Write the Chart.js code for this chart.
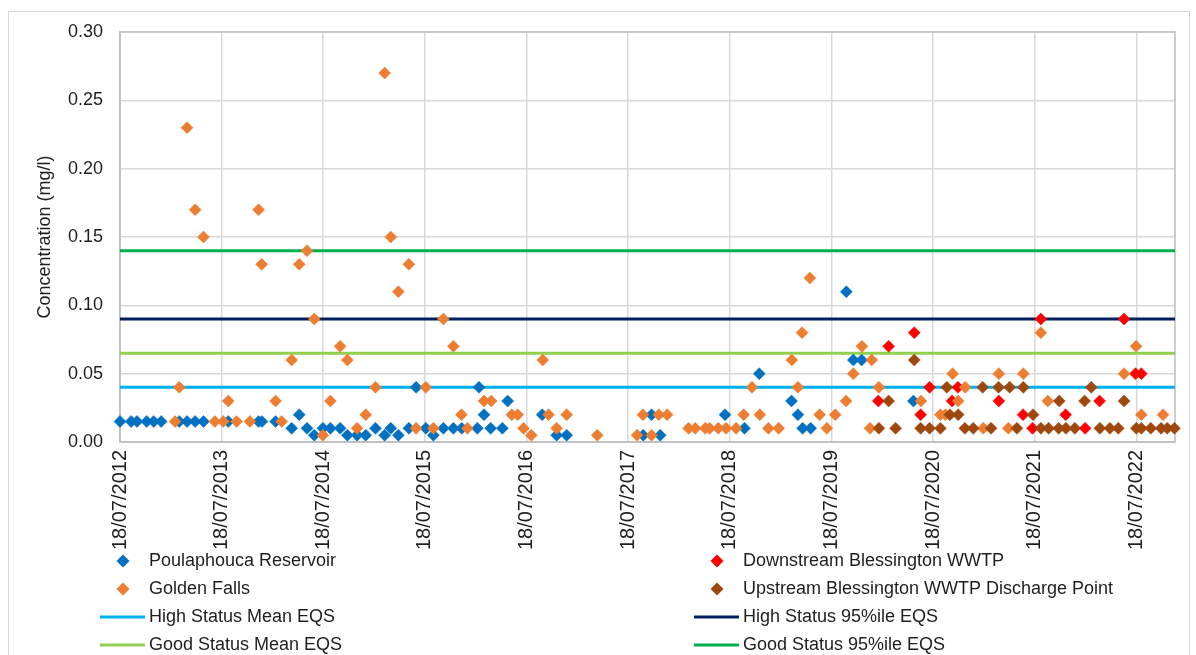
<!DOCTYPE html>
<html>
<head>
<meta charset="utf-8">
<script src="https://cdn.jsdelivr.net/npm/chart.js@4/dist/chart.umd.min.js"></script>
<style>
  html, body { margin: 0; padding: 0; background: #fff; }
  #wrap { width: 1196px; height: 655px; }
</style>
</head>
<body>
<div id="wrap"><canvas id="chart" width="1196" height="655"></canvas></div>
<script>
// Axis range and yearly tick dates
const axisStart = '2012-07-18';
const axisEnd = '2022-12-04';
const tickDates = ['2012-07-18', '2013-07-18', '2014-07-18', '2015-07-18', '2016-07-18', '2017-07-18',
                   '2018-07-18', '2019-07-18', '2020-07-18', '2021-07-18', '2022-07-18'];

// Poulaphouca Reservoir
const reservoirDates = [
    '2012-07-18', '2012-08-27', '2012-09-17', '2012-10-22', '2012-11-16', '2012-12-13',
    '2013-02-16', '2013-03-16', '2013-04-14', '2013-05-14', '2013-08-11', '2013-11-28', '2013-12-10',
    '2014-01-28', '2014-03-27', '2014-04-23', '2014-05-21', '2014-06-16',
    '2014-07-17', '2014-08-13', '2014-09-17', '2014-10-13', '2014-11-17', '2014-12-18',
    '2015-01-22', '2015-02-24', '2015-03-18', '2015-04-14', '2015-05-22', '2015-06-17',
    '2015-07-22', '2015-08-18', '2015-09-23', '2015-10-29', '2015-11-28',
    '2016-01-23', '2016-01-29', '2016-02-16', '2016-03-11', '2016-04-22', '2016-05-11',
    '2016-09-12', '2016-11-03', '2016-12-09',
    '2017-09-10', '2017-10-10', '2017-11-10', '2018-07-01',
    '2018-09-09', '2018-11-01', '2019-02-25', '2019-03-20', '2019-04-06', '2019-05-05',
    '2019-09-10', '2019-10-05', '2019-11-04', '2020-05-08'
];
const reservoirValues = [
    0.015, 0.015, 0.015, 0.015, 0.015, 0.015,
    0.015, 0.015, 0.015, 0.015, 0.015, 0.015, 0.015,
    0.015, 0.01, 0.02, 0.01, 0.005,
    0.01, 0.01, 0.01, 0.005, 0.005, 0.005,
    0.01, 0.005, 0.01, 0.005, 0.01, 0.04,
    0.01, 0.005, 0.01, 0.01, 0.01,
    0.01, 0.04, 0.02, 0.01, 0.01, 0.03,
    0.02, 0.005, 0.005,
    0.005, 0.02, 0.005, 0.02,
    0.01, 0.05, 0.03, 0.02, 0.01, 0.01,
    0.11, 0.06, 0.06, 0.03
];

// Golden Falls
const goldenDates = [
    '2013-02-01', '2013-02-16', '2013-03-16', '2013-04-14', '2013-05-14', '2013-06-24',
    '2013-07-24', '2013-08-11', '2013-09-10', '2013-10-28', '2013-11-28', '2013-12-09',
    '2014-01-28', '2014-02-19', '2014-03-27', '2014-04-23', '2014-05-21', '2014-06-16',
    '2014-07-17', '2014-08-13', '2014-09-17', '2014-10-13', '2014-11-17', '2014-12-18',
    '2015-01-22', '2015-02-24', '2015-03-18', '2015-04-14', '2015-05-22', '2015-06-17',
    '2015-07-22', '2015-08-18', '2015-09-23', '2015-10-29', '2015-11-27', '2015-12-18',
    '2016-02-16', '2016-03-13', '2016-05-26', '2016-06-16', '2016-07-07',
    '2016-08-04', '2016-09-14', '2016-10-05', '2016-11-03', '2016-12-09', '2017-03-29',
    '2017-08-19', '2017-09-09', '2017-10-10', '2017-11-05', '2017-12-05',
    '2018-02-20', '2018-03-16', '2018-04-21', '2018-05-07', '2018-06-07', '2018-07-05',
    '2018-08-10', '2018-09-06', '2018-10-06', '2018-11-03', '2018-12-04',
    '2019-01-10', '2019-02-26', '2019-03-20', '2019-04-04', '2019-05-02', '2019-06-06', '2019-07-02',
    '2019-08-01', '2019-09-09', '2019-10-05', '2019-11-05', '2019-12-04', '2019-12-10',
    '2020-01-05', '2020-06-04',
    '2020-08-13', '2020-08-31', '2020-09-26', '2020-10-16', '2020-11-10',
    '2021-01-14', '2021-03-11', '2021-04-14', '2021-06-07',
    '2021-08-09', '2021-09-03', '2022-06-04',
    '2022-07-17', '2022-08-05', '2022-10-22'
];
const goldenValues = [
    0.015, 0.04, 0.23, 0.17, 0.15, 0.015,
    0.015, 0.03, 0.015, 0.015, 0.17, 0.13,
    0.03, 0.015, 0.06, 0.13, 0.14, 0.09,
    0.005, 0.03, 0.07, 0.06, 0.01, 0.02,
    0.04, 0.27, 0.15, 0.11, 0.13, 0.01,
    0.04, 0.01, 0.09, 0.07, 0.02, 0.01,
    0.03, 0.03, 0.02, 0.02, 0.01,
    0.005, 0.06, 0.02, 0.01, 0.02, 0.005,
    0.005, 0.02, 0.005, 0.02, 0.02,
    0.01, 0.01, 0.01, 0.01, 0.01, 0.01,
    0.01, 0.02, 0.04, 0.02, 0.01,
    0.01, 0.06, 0.04, 0.08, 0.12, 0.02, 0.01,
    0.02, 0.03, 0.05, 0.07, 0.01, 0.06,
    0.04, 0.03,
    0.02, 0.02, 0.05, 0.03, 0.04,
    0.01, 0.05, 0.01, 0.05,
    0.08, 0.03, 0.05,
    0.07, 0.02, 0.02
];

// Downstream Blessington WWTP
const downstreamDates = [
    '2020-01-03', '2020-02-09', '2020-05-11', '2020-06-03', '2020-07-05', '2020-09-24',
    '2020-10-15', '2021-03-11', '2021-06-06', '2021-07-10', '2021-08-09', '2021-11-06',
    '2022-01-15', '2022-03-08', '2022-06-04', '2022-07-15', '2022-08-05'
];
const downstreamValues = [
    0.03, 0.07, 0.08, 0.02, 0.04, 0.03,
    0.04, 0.03, 0.02, 0.01, 0.09, 0.02,
    0.01, 0.03, 0.09, 0.05, 0.05
];

// Upstream Blessington WWTP Discharge Point
const upstreamDates = [
    '2020-01-05', '2020-02-09', '2020-03-05', '2020-05-11', '2020-06-03', '2020-07-05',
    '2020-08-13', '2020-09-05', '2020-09-16', '2020-10-16', '2020-11-09', '2020-12-09',
    '2021-01-12', '2021-02-11', '2021-03-10', '2021-04-19', '2021-05-15', '2021-06-07',
    '2021-07-12', '2021-08-09', '2021-09-06', '2021-10-12', '2021-10-14', '2021-11-07',
    '2021-12-09', '2022-01-13', '2022-02-06', '2022-03-09', '2022-04-14', '2022-05-14',
    '2022-06-04', '2022-07-18', '2022-08-05', '2022-09-08', '2022-10-15', '2022-11-06',
    '2022-12-02'
];
const upstreamValues = [
    0.01, 0.03, 0.01, 0.06, 0.01, 0.01,
    0.01, 0.04, 0.02, 0.02, 0.01, 0.01,
    0.04, 0.01, 0.04, 0.04, 0.01, 0.04,
    0.02, 0.01, 0.01, 0.01, 0.03, 0.01,
    0.01, 0.03, 0.04, 0.01, 0.01, 0.01,
    0.03, 0.01, 0.01, 0.01, 0.01, 0.01,
    0.01
];

// EQS thresholds (mg/l)
const highStatusMean = 0.04;
const goodStatusMean = 0.065;
const highStatus95 = 0.09;
const goodStatus95 = 0.14;

const textColor = '#1e1e1e';
const fontFamily = '"Liberation Sans", Arial, sans-serif';

function toPoints(dates, values) {
    return dates.map((d, i) => ({ x: Date.parse(d), y: values[i] }));
}

function flatLine(value) {
    return [{ x: Date.parse(axisStart), y: value }, { x: Date.parse(axisEnd), y: value }];
}

function formatDate(ms) {
    const d = new Date(ms);
    const dd = String(d.getUTCDate()).padStart(2, '0');
    const mm = String(d.getUTCMonth() + 1).padStart(2, '0');
    return dd + '/' + mm + '/' + d.getUTCFullYear();
}

function markerSet(label, dates, values, color, order) {
    return {
        label: label,
        data: toPoints(dates, values),
        pointStyle: 'rectRot',
        pointRadius: 6,
        pointBackgroundColor: color,
        pointBorderColor: color,
        pointBorderWidth: 0.5,
        showLine: false,
        clip: false,
        order: order
    };
}

function eqsSet(label, value, color, order) {
    return {
        label: label,
        data: flatLine(value),
        borderColor: color,
        backgroundColor: color,
        borderWidth: 3,
        pointRadius: 0,
        showLine: true,
        order: order
    };
}

// Frame, white background and plot border
const framePlugin = {
    id: 'frame',
    beforeDraw(chart) {
        const ctx = chart.ctx;
        ctx.save();
        ctx.fillStyle = '#ffffff';
        ctx.fillRect(0, 0, chart.width, chart.height);
        ctx.strokeStyle = '#D9D9D9';
        ctx.lineWidth = 1;
        ctx.strokeRect(8.5, 11.5, 1181, 700);
        ctx.restore();
    },
    beforeDatasetsDraw(chart) {
        const a = chart.chartArea;
        const ctx = chart.ctx;
        ctx.save();
        ctx.strokeStyle = '#BFBFBF';
        ctx.lineWidth = 1.5;
        ctx.strokeRect(a.left, a.top, a.right - a.left, a.bottom - a.top);
        ctx.restore();
    }
};

// Excel style legend: two columns, row-major order
const legendOrder = [
    'Poulaphouca Reservoir', 'Downstream Blessington WWTP',
    'Golden Falls', 'Upstream Blessington WWTP Discharge Point',
    'High Status Mean EQS', 'High Status 95%ile EQS',
    'Good Status Mean EQS', 'Good Status 95%ile EQS'
];

const legendPlugin = {
    id: 'twoColumnLegend',
    afterDraw(chart) {
        const ctx = chart.ctx;
        ctx.save();
        ctx.font = '18px ' + fontFamily;
        ctx.textBaseline = 'middle';
        legendOrder.forEach((label, i) => {
            const ds = chart.data.datasets.find(d => d.label === label);
            const x0 = i % 2 === 0 ? 100 : 694;
            const y = 561 + Math.floor(i / 2) * 28;
            if (ds.showLine) {
                ctx.strokeStyle = ds.borderColor;
                ctx.lineWidth = 3;
                ctx.beginPath();
                ctx.moveTo(x0, y);
                ctx.lineTo(x0 + 45, y);
                ctx.stroke();
            } else {
                const cx = x0 + 23, r = 6.5;
                ctx.fillStyle = ds.pointBackgroundColor;
                ctx.beginPath();
                ctx.moveTo(cx, y - r);
                ctx.lineTo(cx + r, y);
                ctx.lineTo(cx, y + r);
                ctx.lineTo(cx - r, y);
                ctx.closePath();
                ctx.fill();
            }
            ctx.fillStyle = textColor;
            ctx.fillText(label, x0 + 49, y);
        });
        ctx.restore();
    }
};

const chart = new Chart(document.getElementById('chart'), {
    type: 'scatter',
    data: {
        datasets: [
            markerSet('Poulaphouca Reservoir', reservoirDates, reservoirValues, '#0070C0', 4),
            markerSet('Downstream Blessington WWTP', downstreamDates, downstreamValues, '#FF0000', 3),
            markerSet('Golden Falls', goldenDates, goldenValues, '#ED7D31', 2),
            markerSet('Upstream Blessington WWTP Discharge Point', upstreamDates, upstreamValues, '#9E480E', 1),
            eqsSet('High Status Mean EQS', highStatusMean, '#00B0F0', 8),
            eqsSet('High Status 95%ile EQS', highStatus95, '#002060', 7),
            eqsSet('Good Status Mean EQS', goodStatusMean, '#92D050', 6),
            eqsSet('Good Status 95%ile EQS', goodStatus95, '#00B050', 5)
        ]
    },
    options: {
        responsive: false,
        animation: false,
        layout: { padding: { top: 32, right: 21, bottom: 98, left: 0 } },
        plugins: {
            legend: { display: false },
            tooltip: { enabled: false }
        },
        scales: {
            x: {
                type: 'linear',
                min: Date.parse(axisStart),
                max: Date.parse(axisEnd),
                afterBuildTicks: scale => {
                    scale.ticks = tickDates.map(d => ({ value: Date.parse(d) }));
                },
                afterFit: scale => { scale.height = 115; },
                grid: { color: '#D9D9D9', lineWidth: 1.5, drawTicks: false },
                border: { color: '#BFBFBF', width: 1.5 },
                ticks: {
                    autoSkip: false,
                    minRotation: 90,
                    maxRotation: 90,
                    padding: 8,
                    color: textColor,
                    font: { family: fontFamily, size: 20 },
                    callback: value => formatDate(value)
                }
            },
            y: {
                min: 0,
                max: 0.3,
                afterFit: scale => { scale.width = 120; },
                grid: { color: '#D9D9D9', lineWidth: 1.5, drawTicks: false },
                border: { color: '#BFBFBF', width: 1.5 },
                ticks: {
                    stepSize: 0.05,
                    padding: 17,
                    color: textColor,
                    font: { family: fontFamily, size: 18 },
                    callback: value => value.toFixed(2)
                },
                title: {
                    display: true,
                    text: 'Concentration (mg/l)',
                    color: textColor,
                    font: { family: fontFamily, size: 18 },
                    padding: { top: 34, bottom: 0 }
                }
            }
        }
    },
    plugins: [framePlugin, legendPlugin]
});
</script>
</body>
</html>
